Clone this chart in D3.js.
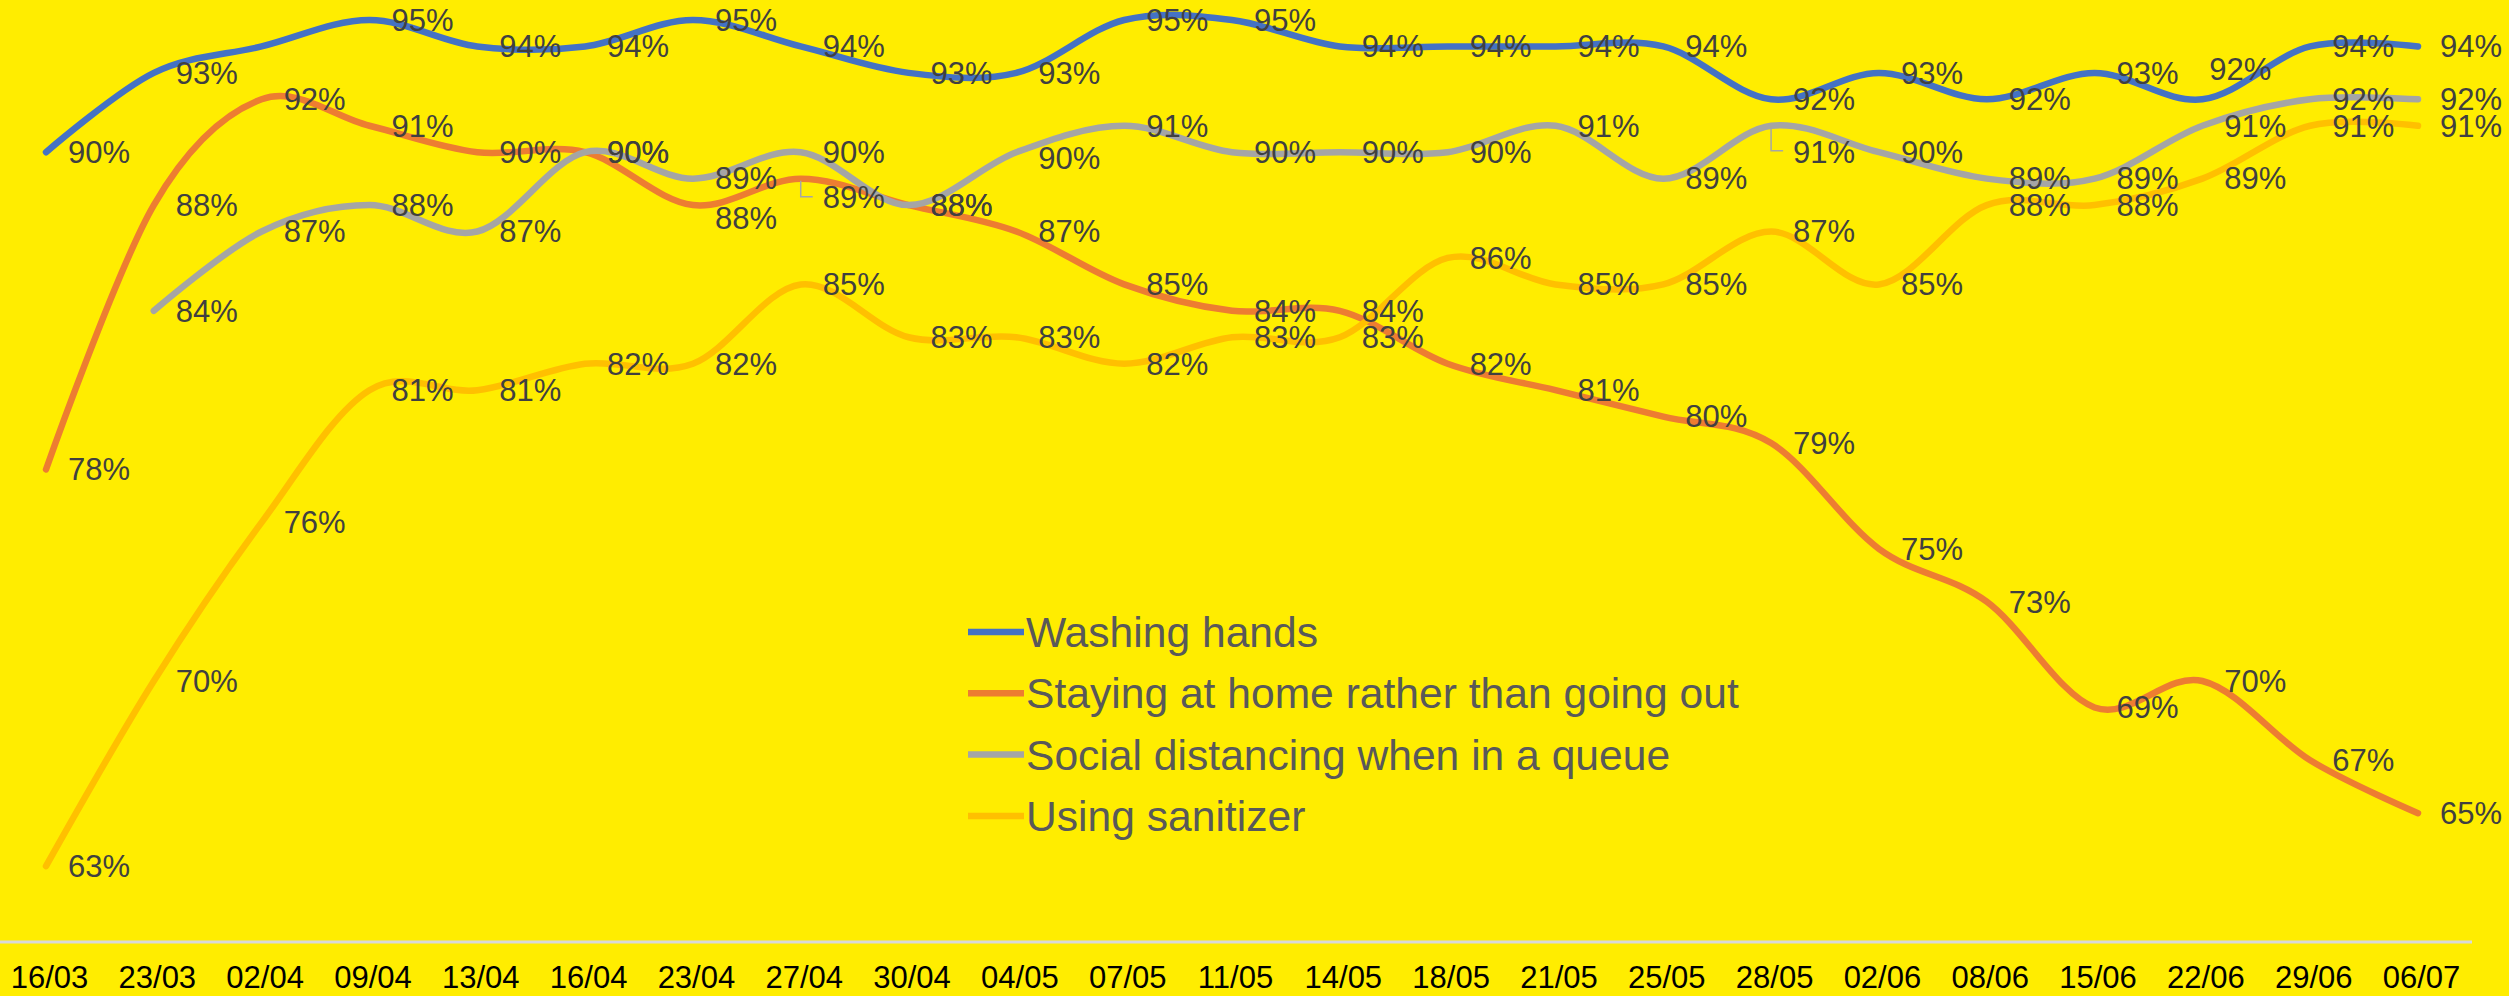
<!DOCTYPE html>
<html>
<head>
<meta charset="utf-8">
<script src="https://cdn.jsdelivr.net/npm/d3@7"></script>
<style>
  body { margin: 0; background: #FFED00; }
  text { font-family: Arial, "Liberation Sans", sans-serif; }
</style>
</head>
<body>
<div id="chart"></div>
<script>
// Survey dates (x categories)
var categories = ["16/03", "23/03", "02/04", "09/04", "13/04", "16/04", "23/04", "27/04", "30/04",
                  "04/05", "07/05", "11/05", "14/05", "18/05", "21/05", "25/05", "28/05", "02/06",
                  "08/06", "15/06", "22/06", "29/06", "06/07"];

// Series values (%)
var washingHands     = [90, 93, 94, 95, 94, 94, 95, 94, 93, 93, 95, 95, 94, 94, 94, 94, 92, 93, 92, 93, 92, 94, 94];
var stayingHome      = [78, 88, 92, 91, 90, 90, 88, 89, 88, 87, 85, 84, 84, 82, 81, 80, 79, 75, 73, 69, 70, 67, 65];
var socialDistancing = [null, 84, 87, 88, 87, 90, 89, 90, 88, 90, 91, 90, 90, 90, 91, 89, 91, 90, 89, 89, 91, 92, 92];
var usingSanitizer   = [63, 70, 76, 81, 81, 82, 82, 85, 83, 83, 82, 83, 83, 86, 85, 85, 87, 85, 88, 88, 89, 91, 91];

var seriesNames  = ["Washing hands", "Staying at home rather than going out", "Social distancing when in a queue", "Using sanitizer"];
var seriesColors = ["#4472C4", "#ED7D31", "#A5A5A5", "#FFC000"];

var w = 2509, h = 996;

var series = [washingHands, stayingHome, socialDistancing, usingSanitizer].map(function(vals, i) {
    return { name: seriesNames[i], color: seriesColors[i],
             values: vals.map(function(v, j) { return { cat: categories[j], value: v, idx: j }; }) };
});

// Labels that Excel had moved by hand (series index : point index)
var labelTweaks = {
    "0:2":  { hide: true },
    "0:20": { dx: -15, dy: -30 },
    "1:6":  { dy: 13 },
    "1:7":  { dy: 19, leader: true },
    "2:9":  { dy: 6 },
    "2:16": { dy: 26, leader: true }
};

var svg = d3.select("#chart")
            .append("svg")
            .attr("width", w)
            .attr("height", h)
            .style("display", "block");

svg.append("rect").attr("width", w).attr("height", h).attr("fill", "#FFED00");

// Scales
var x = d3.scalePoint().domain(categories).range([46, 2418]);
var y = d3.scaleLinear().domain([60, 100]).range([945.4, -112.2]);

// Category axis
var xAxis = svg.append("g")
               .attr("transform", "translate(0, 942)")
               .call(d3.axisBottom(x).tickSize(0).tickPadding(24));
xAxis.select(".domain")
     .attr("d", "M0,0H2472")
     .attr("stroke", "#D9D9D9")
     .attr("stroke-width", 3);
xAxis.selectAll("text")
     .attr("x", 3)
     .style("font-size", "31px")
     .style("font-family", "Arial, 'Liberation Sans', sans-serif")
     .attr("fill", "#000");

// Lines
var line = d3.line()
             .defined(function(d) { return d.value != null; })
             .x(function(d) { return x(d.cat); })
             .y(function(d) { return y(d.value); })
             .curve(d3.curveCardinal.tension(0));

svg.selectAll(".series")
   .data(series)
   .enter()
   .append("path")
   .attr("class", "series")
   .attr("d", function(d) { return line(d.values); })
   .attr("fill", "none")
   .attr("stroke", function(d) { return d.color; })
   .attr("stroke-width", 6.5)
   .attr("stroke-linecap", "round")
   .attr("stroke-linejoin", "round");

// Data labels
series.forEach(function(s, si) {
    s.values.forEach(function(d) {
        if (d.value == null) return;
        var t = labelTweaks[si + ":" + d.idx] || {};
        if (t.hide) return;
        var px = x(d.cat), py = y(d.value);
        var lx = px + 22 + (t.dx || 0), ly = py + (t.dy || 0);
        if (t.leader) {
            svg.append("path")
               .attr("d", "M" + px + "," + (py + 2) + "V" + (ly - 1) + "H" + (px + 12))
               .attr("fill", "none")
               .attr("stroke", "#A6A6A6")
               .attr("stroke-width", 1.5);
        }
        svg.append("text")
           .attr("x", lx)
           .attr("y", ly)
           .attr("dy", "0.35em")
           .attr("fill", "#404040")
           .style("font-size", "31px")
           .text(d.value + "%");
    });
});

// Legend
var legend = svg.append("g").attr("transform", "translate(968, 632)");
seriesNames.forEach(function(name, i) {
    var g = legend.append("g").attr("transform", "translate(0," + (i * 61.3) + ")");
    g.append("line")
     .attr("x1", 0).attr("x2", 56)
     .attr("stroke", seriesColors[i])
     .attr("stroke-width", 6.5);
    g.append("text")
     .attr("x", 58)
     .attr("dy", "0.35em")
     .attr("fill", "#595959")
     .style("font-size", "42.6px")
     .text(name);
});
</script>
</body>
</html>
